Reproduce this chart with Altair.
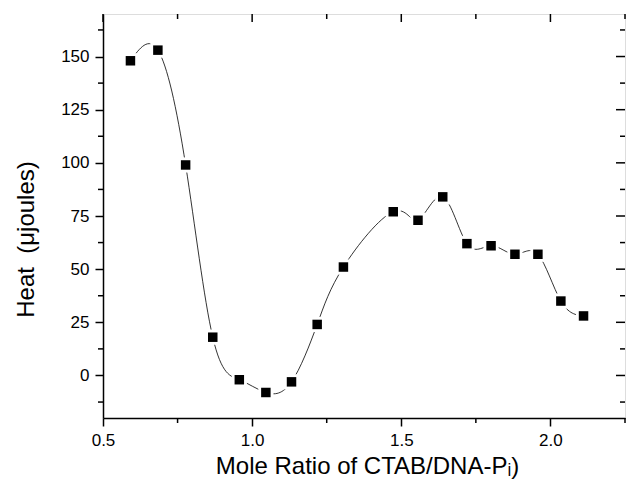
import altair as alt
import pandas as pd

# data
ratio = [0.592, 0.684, 0.777, 0.868, 0.957, 1.046, 1.132, 1.218, 1.306,
         1.473, 1.556, 1.639, 1.720, 1.801, 1.881, 1.958, 2.035, 2.111]
heat = [148, 153, 99, 18, -2, -8, -3, 24, 51,
        77, 73, 84, 62, 61, 57, 57, 35, 28]

x_major = [0.5, 1.0, 1.5, 2.0]
x_minor = [0.75, 1.25, 1.75, 2.25]
y_major = [0, 25, 50, 75, 100, 125, 150]
y_minor = [-12.5, 12.5, 37.5, 62.5, 87.5, 112.5, 137.5, 162.5]

W, H = 522, 404

df = pd.DataFrame({"ratio": ratio, "heat": heat})
xs = alt.Scale(domain=[0.5, 2.25], nice=False, zero=False)
ys = alt.Scale(domain=[-20, 170], nice=False, zero=False)

FONT = "Liberation Sans"

x_axis = alt.Axis(
    values=x_major, format=".1f",
    title="Mole Ratio of CTAB/DNA-Pᵢ)",
    titleFont=FONT, titleFontSize=24, titleFontWeight="normal", titleColor="black",
    titleBaseline="alphabetic", titleY=55, titleX=W / 2 + 3,
    labelFont=FONT, labelFontSize=17, labelColor="black",
    tickSize=8, labelPadding=6, tickColor="black", tickWidth=1.5,
    domainColor="black", domainWidth=1.5, grid=False, labelFlush=False,
)
y_axis = alt.Axis(
    values=y_major, format="d",
    title="Heat\u00a0\u00a0(\u03bcjoules)",
    titleFont=FONT, titleFontSize=24, titleFontWeight="normal", titleColor="black",
    titleAngle=270, titleBaseline="alphabetic", titleAlign="center",
    titleX=-70, titleY=225,
    labelFont=FONT, labelFontSize=17, labelColor="black",
    tickSize=8, labelPadding=6, tickColor="black", tickWidth=1.5,
    domainColor="black", domainWidth=1.5, grid=False, labelFlush=False,
)

base = alt.Chart(df)
line = base.mark_line(interpolate="natural", color="black", strokeWidth=0.8).encode(
    x=alt.X("ratio:Q", scale=xs, axis=x_axis),
    y=alt.Y("heat:Q", scale=ys, axis=y_axis),
)
halo = base.mark_point(shape="square", filled=True, color="white", size=230, opacity=1).encode(
    x="ratio:Q", y="heat:Q")
pts = base.mark_point(shape="square", filled=True, color="black", size=90, opacity=1).encode(
    x="ratio:Q", y="heat:Q")

RULE = dict(color="black", strokeWidth=1.5)
xmaj = pd.DataFrame({"ratio": x_major})
xmin = pd.DataFrame({"ratio": x_minor})
ymaj = pd.DataFrame({"heat": y_major})
ymin = pd.DataFrame({"heat": y_minor})

top_major = alt.Chart(xmaj).mark_rule(**RULE).encode(x="ratio:Q", y=alt.value(0), y2=alt.value(8))
top_minor = alt.Chart(xmin).mark_rule(**RULE).encode(x="ratio:Q", y=alt.value(0), y2=alt.value(5))
bottom_minor = alt.Chart(xmin).mark_rule(**RULE).encode(x="ratio:Q", y=alt.value(H), y2=alt.value(H + 5))
right_major = alt.Chart(ymaj).mark_rule(**RULE).encode(y="heat:Q", x=alt.value(W), x2=alt.value(W - 9))
right_minor = alt.Chart(ymin).mark_rule(**RULE).encode(y="heat:Q", x=alt.value(W), x2=alt.value(W - 5))
left_minor = alt.Chart(ymin).mark_rule(**RULE).encode(y="heat:Q", x=alt.value(0), x2=alt.value(-5))

chart = alt.layer(line, halo, pts, top_major, top_minor, bottom_minor,
                  right_major, right_minor, left_minor).properties(
    width=W, height=H,
    autosize=alt.AutoSizeParams(type="none"),
    padding={"left": 95, "top": 6, "right": 1, "bottom": 61},
).configure_view(stroke="black", strokeWidth=1.5).configure(background="white")

chart.save("out.html", embed_options={"renderer": "svg", "actions": False})
